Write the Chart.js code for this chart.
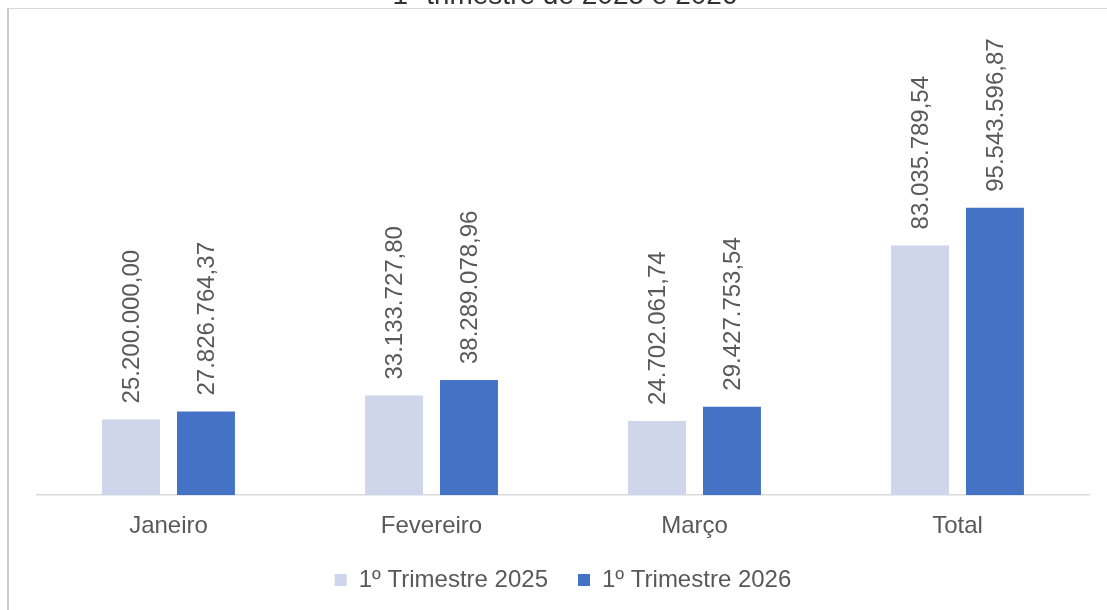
<!DOCTYPE html>
<html>
<head>
<meta charset="utf-8">
<script src="https://cdn.jsdelivr.net/npm/chart.js@4.4.1/dist/chart.umd.min.js"></script>
<style>
  html, body { margin: 0; padding: 0; background: #fff; }
  #wrap { width: 1107px; height: 610px; position: relative; }
</style>
</head>
<body>
<div id="wrap"><canvas id="chart"></canvas></div>
<script>
const titleText = "1º trimestre de 2025 e 2026";
const categories = ["Janeiro", "Fevereiro", "Março", "Total"];
const series2025 = [25200000.00, 33133727.80, 24702061.74, 83035789.54];
const series2026 = [27826764.37, 38289078.96, 29427753.54, 95543596.87];
const seriesLabels = ["1º Trimestre 2025", "1º Trimestre 2026"];

const fmt = new Intl.NumberFormat("pt-BR", { minimumFractionDigits: 2, maximumFractionDigits: 2 });
const textColor = "#595959";
const fontFamily = "'Liberation Sans', Arial, sans-serif";

// frame lines + cut-off title
const framePlugin = {
  id: "frame",
  beforeDraw(chart) {
    const ctx = chart.ctx;
    ctx.save();
    ctx.fillStyle = "#d9d9d9";
    ctx.fillRect(7, 8, chart.width - 7, 1);
    ctx.fillStyle = "#cccccc";
    ctx.fillRect(7, 8, 2, chart.height - 8);
    ctx.fillStyle = "#333333";
    ctx.font = "28px " + fontFamily;
    ctx.textAlign = "center";
    ctx.textBaseline = "alphabetic";
    ctx.fillText(titleText, 565, 4);
    ctx.restore();
  }
};

// rotated value labels above the bars
const valueLabels = {
  id: "valueLabels",
  afterDatasetsDraw(chart) {
    const ctx = chart.ctx;
    ctx.save();
    ctx.fillStyle = textColor;
    ctx.font = "24px " + fontFamily;
    ctx.textAlign = "left";
    ctx.textBaseline = "middle";
    chart.data.datasets.forEach((ds, i) => {
      chart.getDatasetMeta(i).data.forEach((bar, j) => {
        ctx.save();
        ctx.translate(bar.x + 1, bar.y - 16);
        ctx.rotate(-Math.PI / 2);
        ctx.fillText(fmt.format(ds.data[j]), 0, 0);
        ctx.restore();
      });
    });
    ctx.restore();
  }
};

new Chart(document.getElementById("chart"), {
  type: "bar",
  data: {
    labels: categories,
    datasets: [{
      label: seriesLabels[0],
      data: series2025,
      backgroundColor: "#CFD5EA",
      categoryPercentage: 0.57,
      barPercentage: 0.773,
    }, {
      label: seriesLabels[1],
      data: series2026,
      backgroundColor: "#4472C4",
      categoryPercentage: 0.57,
      barPercentage: 0.773,
    }]
  },
  options: {
    responsive: true,
    maintainAspectRatio: false,
    animation: false,
    layout: {
      padding: { left: 37, right: 18, top: 44, bottom: 8 }
    },
    scales: {
      x: {
        grid: { display: false },
        border: { color: "#d9d9d9", width: 1.5 },
        ticks: {
          color: textColor,
          font: { size: 24, family: fontFamily },
          padding: 9,
        },
        afterFit(scale) {
          scale.height -= 12;
        },
      },
      y: {
        display: false,
        min: 0,
        max: 150000000,
      },
    },
    plugins: {
      legend: {
        position: "bottom",
        labels: {
          color: textColor,
          font: { size: 24, family: fontFamily },
          boxWidth: 12,
          boxHeight: 12,
          padding: 30,
        },
      },
      tooltip: { enabled: false },
    },
  },
  plugins: [framePlugin, valueLabels]
});
</script>
</body>
</html>
